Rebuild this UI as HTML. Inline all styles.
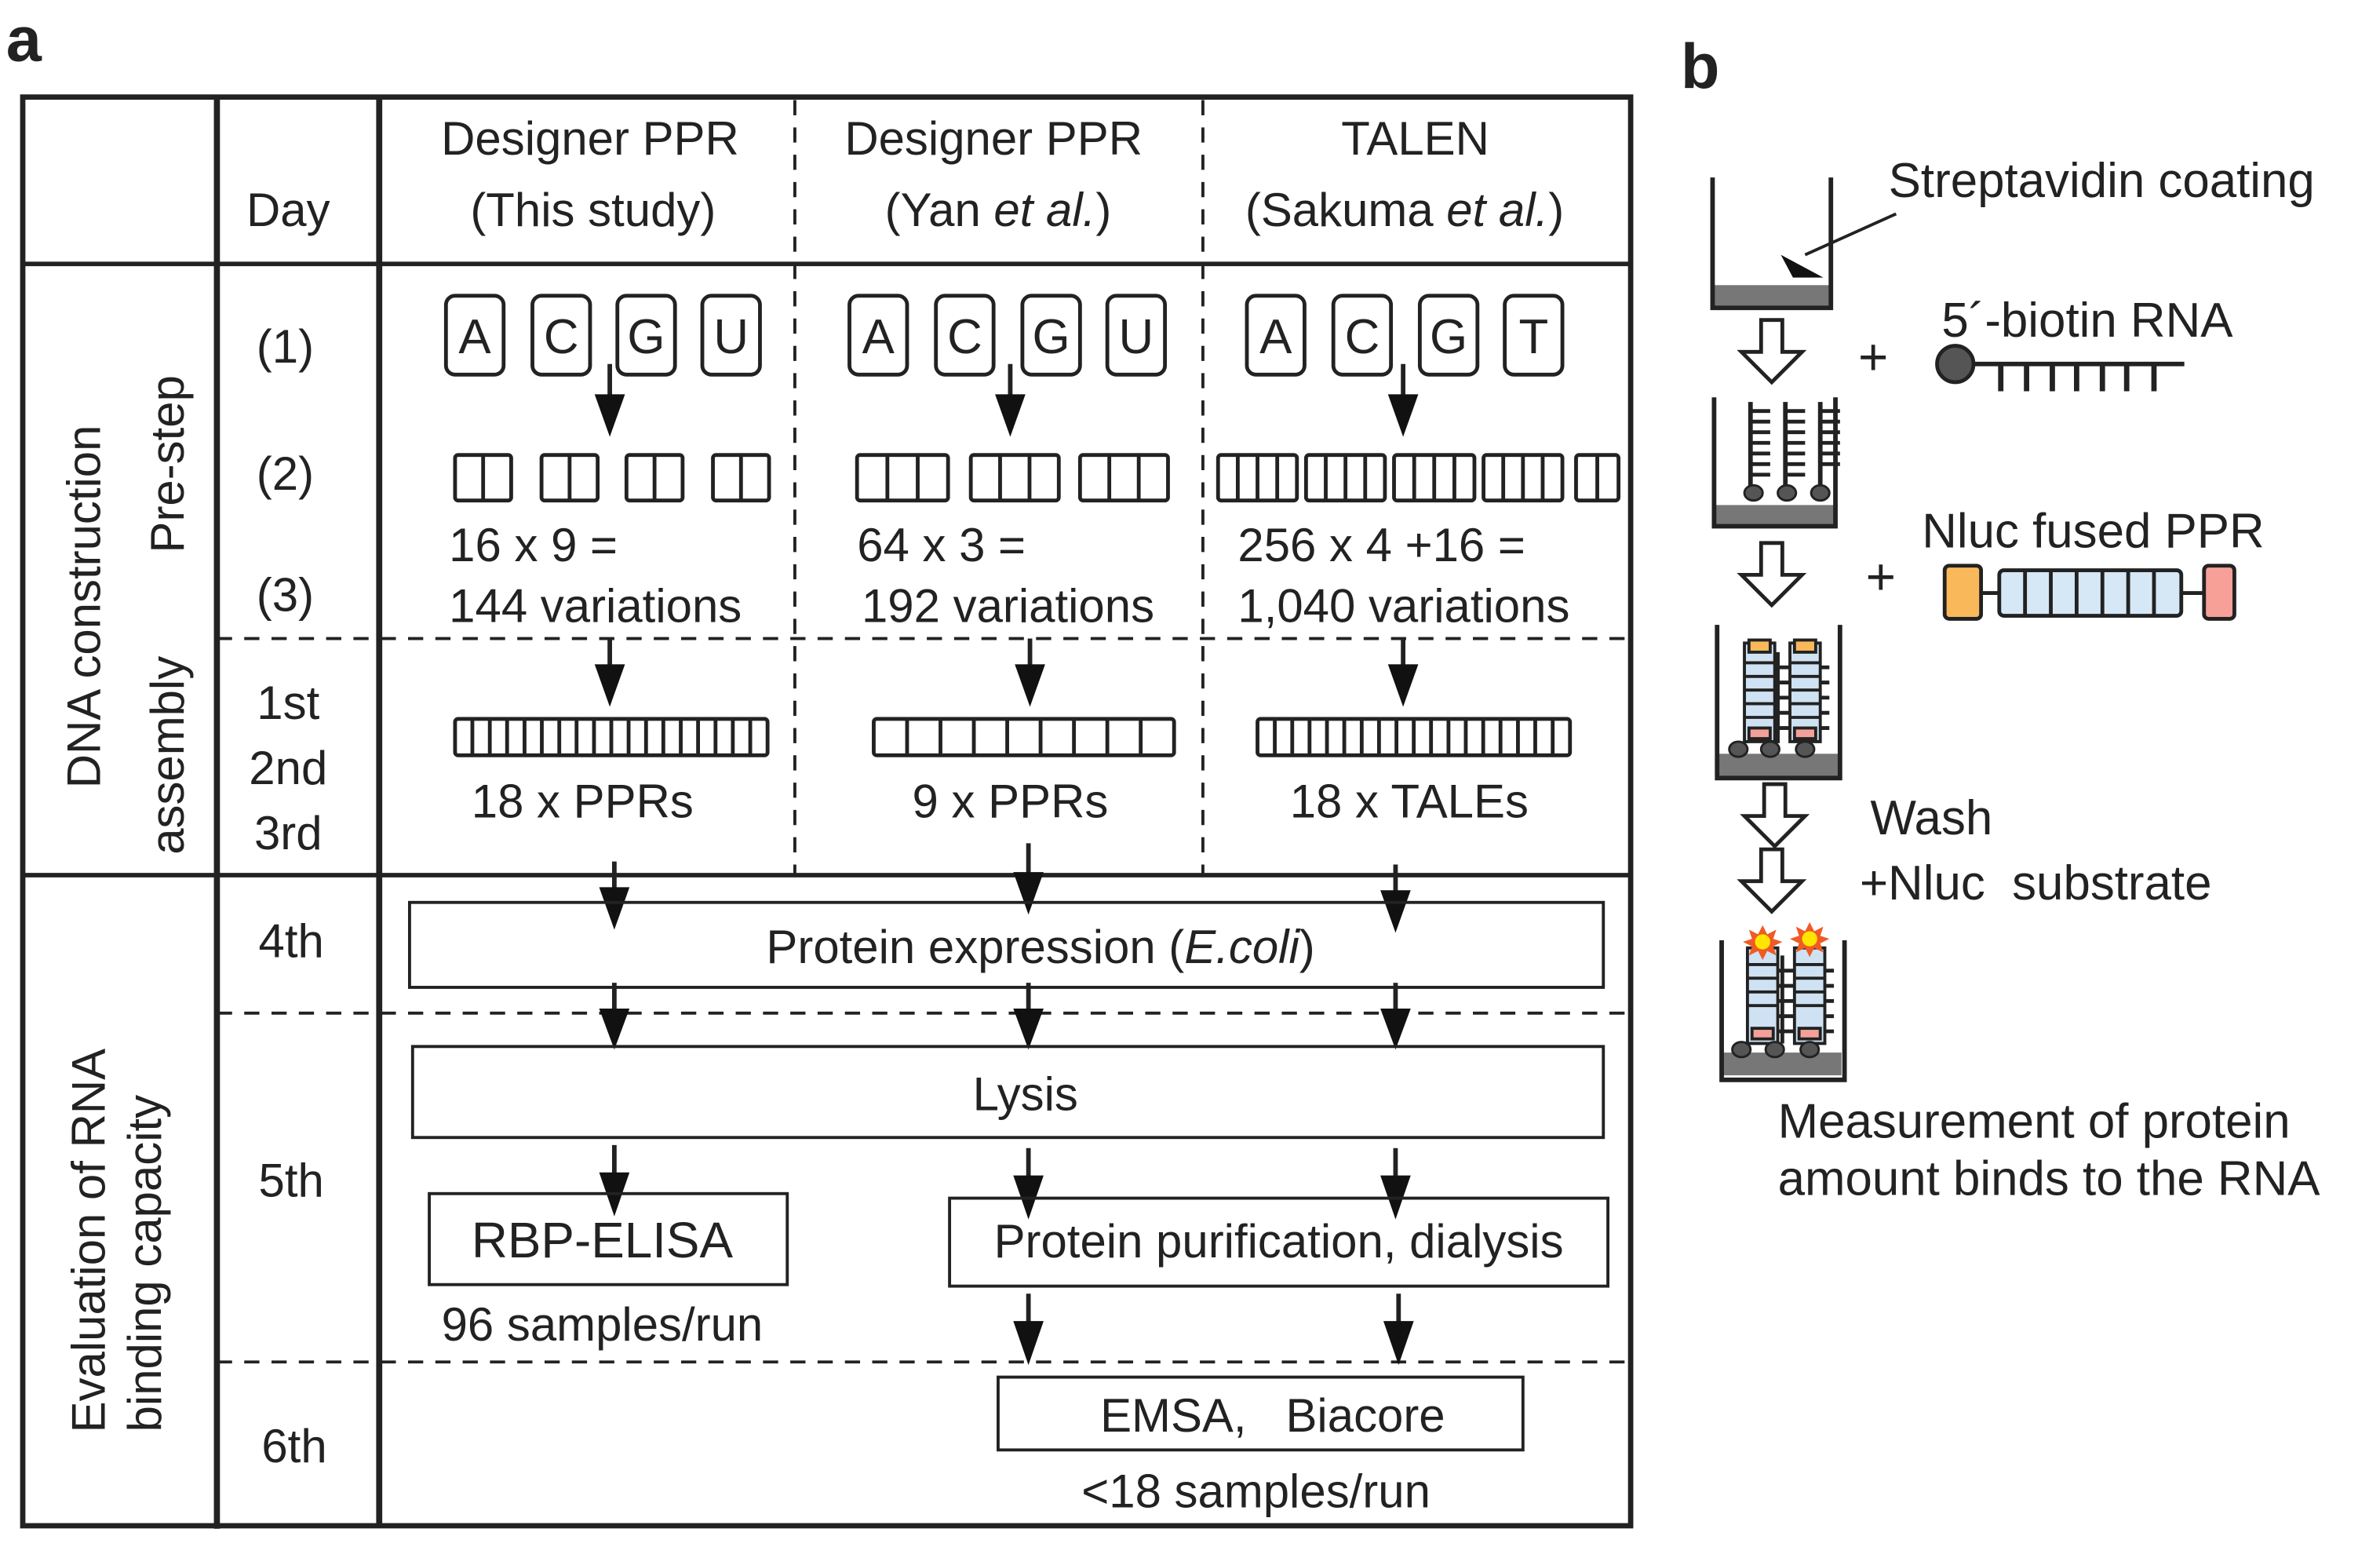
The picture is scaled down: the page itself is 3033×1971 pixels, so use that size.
<!DOCTYPE html>
<html><head><meta charset="utf-8"><style>
html,body{margin:0;padding:0;background:#fff;}
svg{display:block;}
text{font-family:"Liberation Sans",Arial,sans-serif;fill:#222;}
</style></head><body>
<svg width="3033" height="1971" viewBox="0 0 1569 1020" preserveAspectRatio="none" xmlns="http://www.w3.org/2000/svg">
<rect width="1569" height="1020" fill="#fff"/>
<text x="4" y="40" font-size="42" font-weight="bold">a</text>
<text x="1108" y="58" font-size="42" font-weight="bold">b</text>

<g stroke="#222" fill="none">
<rect x="15" y="64" width="1060" height="942" stroke-width="3.5"/>
<line x1="143" y1="64" x2="143" y2="1008" stroke-width="4"/>
<line x1="250" y1="64" x2="250" y2="1006" stroke-width="4"/>
<line x1="15" y1="174" x2="1075" y2="174" stroke-width="3"/>
<line x1="15" y1="577" x2="1075" y2="577" stroke-width="3"/>
<g stroke-width="2" stroke-dasharray="10,8">
<line x1="524" y1="66" x2="524" y2="577"/>
<line x1="793" y1="66" x2="793" y2="577"/>
<line x1="143" y1="421" x2="1075" y2="421"/>
<line x1="143" y1="668" x2="1075" y2="668"/>
<line x1="143" y1="898" x2="1075" y2="898"/>
</g>
</g>

<g font-size="31" text-anchor="middle">
<text x="190" y="149">Day</text>
<text x="389" y="102">Designer PPR</text>
<text x="391" y="149">(This study)</text>
<text x="655" y="102">Designer PPR</text>
<text x="658" y="149">(Yan <tspan font-style="italic">et al.</tspan>)</text>
<text x="933" y="102">TALEN</text>
<text x="926" y="149">(Sakuma <tspan font-style="italic">et al.</tspan>)</text>
<text x="188" y="239">(1)</text>
<text x="188" y="323">(2)</text>
<text x="188" y="403">(3)</text>
<text x="190" y="474">1st</text>
<text x="190" y="517">2nd</text>
<text x="190" y="560">3rd</text>
<text x="192" y="631">4th</text>
<text x="192" y="789">5th</text>
<text x="194" y="964">6th</text>
</g>
<g font-size="31" text-anchor="middle">
<text transform="translate(66,400) rotate(-90)">DNA construction</text>
<text transform="translate(121,306) rotate(-90)">Pre-step</text>
<text transform="translate(121,498) rotate(-90)">assembly</text>
<text transform="translate(69,818) rotate(-90)">Evaluation of RNA</text>
<text transform="translate(106,833) rotate(-90)">binding capacity</text>
</g>

<g stroke="#222" stroke-width="2.5" fill="#fff">
<rect x="294" y="195" width="38" height="52" rx="6"/><rect x="351" y="195" width="38" height="52" rx="6"/><rect x="407" y="195" width="38" height="52" rx="6"/><rect x="463" y="195" width="38" height="52" rx="6"/>
<rect x="560" y="195" width="38" height="52" rx="6"/><rect x="617" y="195" width="38" height="52" rx="6"/><rect x="674" y="195" width="38" height="52" rx="6"/><rect x="730" y="195" width="38" height="52" rx="6"/>
<rect x="822" y="195" width="38" height="52" rx="6"/><rect x="879" y="195" width="38" height="52" rx="6"/><rect x="936" y="195" width="38" height="52" rx="6"/><rect x="992" y="195" width="38" height="52" rx="6"/>
</g>
<g font-size="32" text-anchor="middle">
<text x="313" y="233">A</text><text x="370" y="233">C</text><text x="426" y="233">G</text><text x="482" y="233">U</text>
<text x="579" y="233">A</text><text x="636" y="233">C</text><text x="693" y="233">G</text><text x="749" y="233">U</text>
<text x="841" y="233">A</text><text x="898" y="233">C</text><text x="955" y="233">G</text><text x="1011" y="233">T</text>
</g>

<g stroke="#222" stroke-width="3">
<line x1="402" y1="240" x2="402" y2="262"/><line x1="666" y1="240" x2="666" y2="262"/><line x1="925" y1="240" x2="925" y2="262"/>
<line x1="402" y1="421" x2="402" y2="440"/><line x1="679" y1="421" x2="679" y2="440"/><line x1="925" y1="421" x2="925" y2="440"/>
<line x1="405" y1="568" x2="405" y2="588"/><line x1="678" y1="556" x2="678" y2="578"/><line x1="920" y1="570" x2="920" y2="590"/>
<line x1="405" y1="648" x2="405" y2="668"/><line x1="678" y1="648" x2="678" y2="668"/><line x1="920" y1="648" x2="920" y2="668"/>
<line x1="405" y1="755" x2="405" y2="775"/><line x1="678" y1="757" x2="678" y2="777"/><line x1="920" y1="757" x2="920" y2="777"/>
<line x1="678" y1="853" x2="678" y2="873"/><line x1="922" y1="853" x2="922" y2="873"/>
</g>
<g fill="#111">
<polygon points="392,260 412,260 402,288"/><polygon points="656,260 676,260 666,288"/><polygon points="915,260 935,260 925,288"/>
<polygon points="392,438 412,438 402,466"/><polygon points="669,438 689,438 679,466"/><polygon points="915,438 935,438 925,466"/>
<polygon points="395,585 415,585 405,613"/><polygon points="668,575 688,575 678,603"/><polygon points="910,587 930,587 920,615"/>
<polygon points="395,665 415,665 405,692"/><polygon points="668,665 688,665 678,692"/><polygon points="910,665 930,665 920,692"/>
<polygon points="395,773 415,773 405,802"/><polygon points="668,775 688,775 678,804"/><polygon points="910,775 930,775 920,804"/>
<polygon points="668,871 688,871 678,900"/><polygon points="912,871 932,871 922,900"/>
</g>

<g stroke="#222" stroke-width="2.5" fill="#fff">
<rect x="300" y="300" width="37" height="30" rx="2"/><rect x="357" y="300" width="37" height="30" rx="2"/><rect x="413" y="300" width="37" height="30" rx="2"/><rect x="470" y="300" width="37" height="30" rx="2"/>
<rect x="565" y="300" width="60" height="30" rx="2"/><rect x="640" y="300" width="58" height="30" rx="2"/><rect x="712" y="300" width="58" height="30" rx="2"/>
<rect x="803" y="300" width="52" height="30" rx="2"/><rect x="861" y="300" width="52" height="30" rx="2"/><rect x="919" y="300" width="53" height="30" rx="2"/><rect x="978" y="300" width="52" height="30" rx="2"/><rect x="1039" y="300" width="28" height="30" rx="2"/>
<path d="M318.5 300V330M375.5 300V330M431.5 300V330M488.5 300V330M585 300V330M605 300V330M659.3 300V330M678.7 300V330M731.3 300V330M750.7 300V330M816 300V330M829 300V330M842 300V330M874 300V330M887 300V330M900 300V330M932.3 300V330M945.5 300V330M958.8 300V330M991 300V330M1004 300V330M1017 300V330M1053 300V330"/>
</g>
<g font-size="31">
<text x="296" y="370">16 x 9 =</text><text x="296" y="410">144 variations</text>
<text x="565" y="370">64 x 3 =</text><text x="568" y="410">192 variations</text>
<text x="816" y="370">256 x 4 +16 =</text><text x="816" y="410">1,040 variations</text>
</g>

<g stroke="#222" stroke-width="2.5" fill="#fff">
<rect x="300" y="474" width="206" height="24" rx="2"/><rect x="576" y="474" width="198" height="24" rx="2"/><rect x="829" y="474" width="206" height="24" rx="2"/>
<path d="M311.4 474V498M322.9 474V498M334.3 474V498M345.8 474V498M357.2 474V498M368.7 474V498M380.1 474V498M391.6 474V498M403 474V498M414.4 474V498M425.9 474V498M437.3 474V498M448.8 474V498M460.2 474V498M471.7 474V498M483.1 474V498M494.6 474V498M598 474V498M620 474V498M642 474V498M664 474V498M686 474V498M708 474V498M730 474V498M752 474V498M840.4 474V498M851.9 474V498M863.3 474V498M874.8 474V498M886.2 474V498M897.7 474V498M909.1 474V498M920.6 474V498M932 474V498M943.4 474V498M954.9 474V498M966.3 474V498M977.8 474V498M989.2 474V498M1000.7 474V498M1012.1 474V498M1023.6 474V498"/>
</g>
<g font-size="31" text-anchor="middle">
<text x="384" y="539">18 x PPRs</text><text x="666" y="539">9 x PPRs</text><text x="929" y="539">18 x TALEs</text>
</g>

<g stroke="#222" stroke-width="2" fill="none">
<rect x="270" y="595" width="787" height="56"/>
<rect x="272" y="690" width="785" height="60"/>
<rect x="283" y="787" width="236" height="60"/>
<rect x="626" y="790" width="434" height="58"/>
<rect x="658" y="908" width="346" height="48"/>
</g>
<g font-size="31" text-anchor="middle">
<text x="686" y="635">Protein expression (<tspan font-style="italic">E.coli</tspan>)</text>
<text x="676" y="732">Lysis</text>
<text x="397" y="829" font-size="33">RBP-ELISA</text>
<text x="843" y="829">Protein purification, dialysis</text>
<text x="397" y="884">96 samples/run</text>
<text x="839" y="944">EMSA,&#160;&#160; Biacore</text>
<text x="828" y="994">&lt;18 samples/run</text>
</g>

<g font-size="32">
<text x="1245" y="130">Streptavidin coating</text>
<text x="1280" y="222">5´-biotin RNA</text>
<text x="1267" y="361">Nluc fused PPR</text>
<text x="1233" y="550">Wash</text>
<text x="1226" y="593">+Nluc&#160; substrate</text>
<text x="1172" y="750">Measurement of protein</text>
<text x="1172" y="788">amount binds to the RNA</text>
<text x="1225" y="247" font-size="34">+</text>
<text x="1230" y="392" font-size="34">+</text>
</g>
<g stroke="#222" stroke-width="3" fill="none">
<rect x="1129" y="188" width="78" height="14" fill="#777" stroke="none"/>
<polyline points="1129,117 1129,203 1207,203 1207,117"/>
<line x1="1250" y1="141" x2="1190" y2="168" stroke-width="2"/>
<rect x="1131" y="333" width="79" height="13" fill="#777" stroke="none"/>
<polyline points="1130,262 1130,347 1210,347 1210,262"/>
<rect x="1133" y="497" width="79" height="15" fill="#777" stroke="none"/>
<polyline points="1132,412 1132,513 1213,513 1213,412"/>
<rect x="1135" y="694" width="79" height="15" fill="#777" stroke="none"/>
<polyline points="1135,620 1135,712 1216,712 1216,620"/>
</g>
<polygon points="1174,168 1202,183 1182,183" fill="#111"/>
<g stroke="#222" stroke-width="3" fill="none">
<path d="M1154 322V265M1177 322V265M1200 322V265"/>
</g>
<g stroke="#222" stroke-width="2.5">
<path d="M1154 271H1167M1154 278H1167M1154 285H1167M1154 292H1167M1154 299H1167M1154 306H1167M1154 313H1167
M1177 271H1190M1177 278H1190M1177 285H1190M1177 292H1190M1177 299H1190M1177 306H1190M1177 313H1190
M1200 271H1213M1200 278H1213M1200 285H1213M1200 292H1213M1200 299H1213M1200 306H1213"/>
</g>
<g fill="#555" stroke="#222" stroke-width="1.5">
<ellipse cx="1156" cy="325" rx="6" ry="5"/><ellipse cx="1178" cy="325" rx="6" ry="5"/><ellipse cx="1200" cy="325" rx="6" ry="5"/>
</g>
<g stroke="#222" stroke-width="2.5">
<path d="M1152 490V430M1172 490V430M1192 490V430"/>
<path d="M1152 440H1206M1152 450H1206M1152 460H1206M1152 470H1206M1152 480H1206"/>
</g>
<g stroke="#222" stroke-width="2">
<rect x="1150" y="424" width="20" height="65" fill="#cfe2f3"/>
<rect x="1180" y="424" width="20" height="65" fill="#cfe2f3"/>
<rect x="1153" y="422" width="14" height="8" fill="#f9b85a"/><rect x="1183" y="422" width="14" height="8" fill="#f9b85a"/>
<rect x="1153" y="480" width="14" height="7" fill="#f4a09a"/><rect x="1183" y="480" width="14" height="7" fill="#f4a09a"/>
<path d="M1150 437H1170M1150 446H1170M1150 455H1170M1150 464H1170M1150 473H1170M1180 437H1200M1180 446H1200M1180 455H1200M1180 464H1200M1180 473H1200"/>
</g>
<g fill="#555" stroke="#222" stroke-width="1.5">
<ellipse cx="1146" cy="494" rx="6" ry="5"/><ellipse cx="1167" cy="494" rx="6" ry="5"/><ellipse cx="1190" cy="494" rx="6" ry="5"/>
</g>
<g stroke="#222" stroke-width="2.5">
<path d="M1155 688V630M1175 688V630M1195 688V630"/>
<path d="M1155 640H1209M1155 650H1209M1155 660H1209M1155 670H1209M1155 680H1209"/>
</g>
<g stroke="#222" stroke-width="2">
<rect x="1152" y="625" width="20" height="63" fill="#cfe2f3"/>
<rect x="1183" y="625" width="20" height="63" fill="#cfe2f3"/>
<rect x="1155" y="678" width="14" height="7" fill="#f4a09a"/><rect x="1186" y="678" width="14" height="7" fill="#f4a09a"/>
<path d="M1152 636H1172M1152 645H1172M1152 654H1172M1152 663H1172M1183 636H1203M1183 645H1203M1183 654H1203M1183 663H1203"/>
</g>
<g fill="#555" stroke="#222" stroke-width="1.5">
<ellipse cx="1148" cy="692" rx="6" ry="5"/><ellipse cx="1170" cy="692" rx="6" ry="5"/><ellipse cx="1193" cy="692" rx="6" ry="5"/>
</g>
<g>
<polygon points="1162,610 1165,616 1171,613 1169,619 1175,621 1169,624 1171,630 1165,627 1162,633 1159,627 1153,630 1155,624 1149,621 1155,619 1153,613 1159,616" fill="#f05a24"/>
<circle cx="1162" cy="621" r="5" fill="#ffe600"/>
<polygon points="1193,608 1196,614 1202,611 1200,617 1206,619 1200,622 1202,628 1196,625 1193,631 1190,625 1184,628 1186,622 1180,619 1186,617 1184,611 1190,614" fill="#f05a24"/>
<circle cx="1193" cy="619" r="5" fill="#ffe600"/>
</g>
<g fill="#fff" stroke="#222" stroke-width="2.5" stroke-linejoin="miter">
<polygon points="1161,211 1175,211 1175,232 1188,232 1168,252 1148,232 1161,232"/>
<polygon points="1161,358 1175,358 1175,379 1188,379 1168,399 1148,379 1161,379"/>
<polygon points="1163,517 1177,517 1177,538 1190,538 1170,558 1150,538 1163,538"/>
<polygon points="1161,560 1175,560 1175,581 1188,581 1168,601 1148,581 1161,581"/>
</g>
<g stroke="#222">
<circle cx="1289" cy="240" r="12" fill="#555" stroke-width="2.5"/>
<line x1="1300" y1="240" x2="1440" y2="240" stroke-width="3"/>
<path d="M1319 240V258M1336 240V258M1353 240V258M1369 240V258M1386 240V258M1402 240V258M1420 240V258" stroke-width="3.5"/>
</g>
<g stroke="#222" stroke-width="2.5">
<line x1="1305" y1="391" x2="1455" y2="391"/>
<rect x="1282" y="373" width="24" height="35" rx="3" fill="#f9b85a"/>
<rect x="1318" y="376" width="120" height="30" rx="3" fill="#d6e7f5"/>
<path d="M1335 376V406M1352 376V406M1369 376V406M1386 376V406M1403 376V406M1420 376V406"/>
<rect x="1453" y="373" width="20" height="35" rx="3" fill="#f6a098"/>
</g>
</svg>
</body></html>
